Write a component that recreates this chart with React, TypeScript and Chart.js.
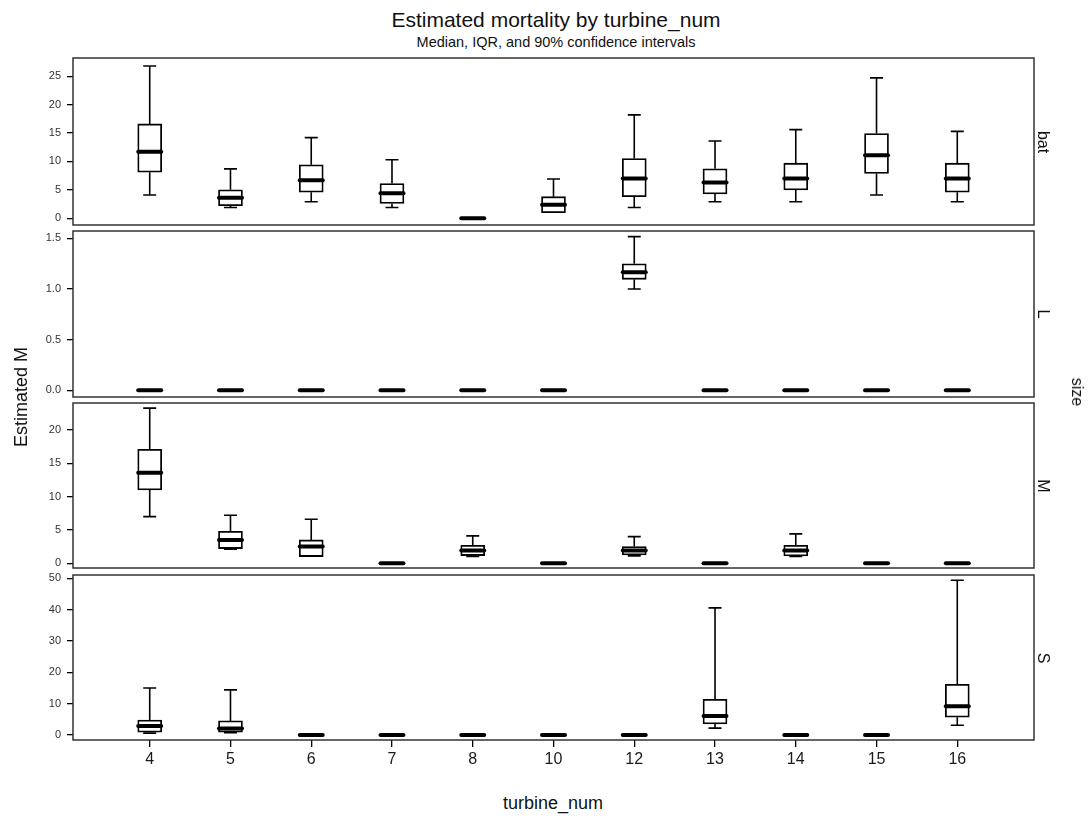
import React, { useEffect, useRef } from 'react';
import { Chart, registerables } from 'chart.js';

Chart.register(...registerables);

const FONT = "'Liberation Sans', Arial, sans-serif";

// turbine numbers (x categories)
const categories = ['4', '5', '6', '7', '8', '10', '12', '13', '14', '15', '16'];
// size facets (right strips)
const sizeLabels = ['bat', 'L', 'M', 'S'];

// each entry: [lower 5%, Q1, median, Q3, upper 95%]
const batStats = [
  [4.1, 8.1, 11.7, 16.6, 26.8],
  [1.9, 2.2, 3.6, 5.0, 8.7],
  [2.9, 4.6, 6.7, 9.4, 14.2],
  [1.9, 2.6, 4.4, 6.1, 10.3],
  [0, 0, 0, 0, 0],
  [1.0, 1.0, 2.4, 3.8, 6.9],
  [1.9, 3.8, 7.0, 10.5, 18.2],
  [2.9, 4.3, 6.3, 8.7, 13.6],
  [2.9, 5.0, 7.0, 9.7, 15.6],
  [4.1, 7.9, 11.1, 14.9, 24.7],
  [2.9, 4.6, 7.0, 9.7, 15.3],
];
const lStats = [
  [0, 0, 0, 0, 0],
  [0, 0, 0, 0, 0],
  [0, 0, 0, 0, 0],
  [0, 0, 0, 0, 0],
  [0, 0, 0, 0, 0],
  [0, 0, 0, 0, 0],
  [1.0, 1.095, 1.165, 1.248, 1.516],
  [0, 0, 0, 0, 0],
  [0, 0, 0, 0, 0],
  [0, 0, 0, 0, 0],
  [0, 0, 0, 0, 0],
];
const mStats = [
  [7.0, 11.0, 13.6, 17.1, 23.3],
  [2.1, 2.2, 3.5, 4.8, 7.2],
  [1.0, 1.0, 2.5, 3.5, 6.6],
  [0, 0, 0, 0, 0],
  [1.0, 1.15, 1.9, 2.7, 4.1],
  [0, 0, 0, 0, 0],
  [1.1, 1.25, 1.9, 2.5, 4.0],
  [0, 0, 0, 0, 0],
  [1.0, 1.1, 1.9, 2.7, 4.4],
  [0, 0, 0, 0, 0],
  [0, 0, 0, 0, 0],
];
const sStats = [
  [0.6, 0.9, 2.9, 4.8, 15.0],
  [0.7, 0.9, 2.1, 4.5, 14.4],
  [0, 0, 0, 0, 0],
  [0, 0, 0, 0, 0],
  [0, 0, 0, 0, 0],
  [0, 0, 0, 0, 0],
  [0, 0, 0, 0, 0],
  [2.2, 3.5, 6.1, 11.4, 40.6],
  [0, 0, 0, 0, 0],
  [0, 0, 0, 0, 0],
  [3.1, 5.7, 9.2, 16.2, 49.4],
];

// y tick values per panel
const batTicks = [0, 5, 10, 15, 20, 25];
const lTicks = [0, 0.5, 1.0, 1.5];
const mTicks = [0, 5, 10, 15, 20];
const sTicks = [0, 10, 20, 30, 40, 50];
const tickDecimals = [0, 1, 0, 0];

// y axis limits per panel
const batRange = [-1.18, 28.2];
const lRange = [-0.067, 1.572];
const mRange = [-0.72, 24.07];
const sRange = [-1.6, 51.1];

const panelStats = [batStats, lStats, mStats, sStats];
const panelTicks = [batTicks, lTicks, mTicks, sTicks];
const panelRanges = [batRange, lRange, mRange, sRange];

// layout (pixels)
const PANEL_TOP = [58, 231, 403, 575];
const PANEL_BOTTOM = [225, 397, 568, 740];
const AREA_LEFT = 73;
const AREA_RIGHT = 1034;
const W = 1091;
const PAD = 10;
const XAXIS_H = 40;

const boxPlugin = {
  id: 'boxWhiskers',
  afterDatasetsDraw(chart: any, _args: any, opts: any) {
    const stats: number[][] = opts.stats;
    const xs = chart.scales.x;
    const ys = chart.scales.y;
    const ctx = chart.ctx;
    ctx.save();
    ctx.strokeStyle = '#000';
    stats.forEach((s, i) => {
      const x = xs.getPixelForValue(i);
      const [lo, q1, med, q3, hi] = s.map((v) => ys.getPixelForValue(v));
      ctx.lineWidth = 1.6;
      ctx.lineCap = 'butt';
      ctx.beginPath();
      if (hi < q3 - 0.5) {
        ctx.moveTo(x, q3);
        ctx.lineTo(x, hi);
        ctx.moveTo(x - 6.5, hi);
        ctx.lineTo(x + 6.5, hi);
      }
      if (lo > q1 + 0.5) {
        ctx.moveTo(x, q1);
        ctx.lineTo(x, lo);
        ctx.moveTo(x - 6.5, lo);
        ctx.lineTo(x + 6.5, lo);
      }
      ctx.stroke();
      ctx.lineWidth = 4;
      ctx.lineCap = 'round';
      ctx.beginPath();
      ctx.moveTo(x - 11.5, med);
      ctx.lineTo(x + 11.5, med);
      ctx.stroke();
    });
    const a = chart.chartArea;
    ctx.lineWidth = 1.5;
    ctx.strokeStyle = '#333';
    ctx.strokeRect(a.left, a.top, a.right - a.left, a.bottom - a.top);
    ctx.restore();
  },
};

function Panel({ idx }: { idx: number }) {
  const ref = useRef<HTMLCanvasElement>(null);
  const showX = idx === 3;
  const areaH = PANEL_BOTTOM[idx] - PANEL_TOP[idx];
  const canvasTop = PANEL_TOP[idx] - PAD;
  const canvasH = showX ? PAD + areaH + XAXIS_H : PAD + areaH + PAD;

  useEffect(() => {
    if (!ref.current) return;
    const stats = panelStats[idx];
    const ticks = panelTicks[idx];
    const [ymin, ymax] = panelRanges[idx];
    const dec = tickDecimals[idx];
    const chart = new Chart(ref.current, {
      type: 'bar',
      data: {
        datasets: [
          {
            data: stats.map((s, i) => ({ x: i, y: [s[1], s[3]] })) as any,
            backgroundColor: '#ffffff',
            borderColor: '#000000',
            borderWidth: 1.8,
            borderSkipped: false,
            barThickness: 24,
          } as any,
        ],
      },
      options: {
        responsive: false,
        animation: false,
        devicePixelRatio: 1,
        events: [],
        layout: {
          padding: { top: PAD, bottom: showX ? 0 : PAD, left: 0, right: W - AREA_RIGHT },
        },
        plugins: {
          legend: { display: false },
          tooltip: { enabled: false },
          title: { display: false },
          boxWhiskers: { stats },
        } as any,
        scales: {
          x: {
            type: 'linear',
            min: -0.95,
            max: 10.95,
            offset: false,
            display: showX,
            afterBuildTicks: (s: any) => {
              s.ticks = categories.map((_, i) => ({ value: i }));
            },
            afterFit: (s: any) => {
              s.height = showX ? XAXIS_H : 0;
              s.paddingLeft = 0;
              s.paddingRight = 0;
              s.paddingTop = 0;
              s.paddingBottom = 0;
            },
            ticks: {
              callback: (v: any) => categories[Math.round(Number(v))],
              font: { family: FONT, size: 16 },
              color: '#1a1a1a',
              padding: 3,
              maxRotation: 0,
              autoSkip: false,
            },
            grid: {
              display: true,
              offset: false,
              drawOnChartArea: false,
              drawTicks: true,
              tickLength: 7,
              color: '#000',
              lineWidth: 1.3,
            },
            border: { display: false },
          },
          y: {
            type: 'linear',
            min: ymin,
            max: ymax,
            afterBuildTicks: (s: any) => {
              s.ticks = ticks.map((v) => ({ value: v }));
            },
            afterFit: (s: any) => {
              s.width = AREA_LEFT;
              s.paddingLeft = 0;
              s.paddingRight = 0;
              s.paddingTop = 0;
              s.paddingBottom = 0;
            },
            ticks: {
              callback: (v: any) => Number(v).toFixed(dec),
              font: { family: FONT, size: 11 },
              color: '#333',
              padding: 6,
              autoSkip: false,
            },
            grid: {
              display: true,
              drawOnChartArea: false,
              drawTicks: true,
              tickLength: 6,
              color: '#000',
              lineWidth: 1.3,
            },
            border: { display: false },
          },
        },
      } as any,
      plugins: [boxPlugin],
    });
    return () => chart.destroy();
  }, [idx]);

  return (
    <canvas
      ref={ref}
      width={W}
      height={canvasH}
      style={{ position: 'absolute', left: 0, top: canvasTop, width: W, height: canvasH }}
    />
  );
}

function Label({
  text,
  cx,
  cy,
  size,
  rotate = 0,
}: {
  text: string;
  cx: number;
  cy: number;
  size: number;
  rotate?: number;
}) {
  return (
    <div
      style={{
        position: 'absolute',
        left: cx,
        top: cy,
        transform: `translate(-50%, -50%) rotate(${rotate}deg)`,
        fontFamily: FONT,
        fontSize: size,
        lineHeight: `${size}px`,
        whiteSpace: 'nowrap',
        color: '#111',
      }}
    >
      {text}
    </div>
  );
}

export default function App() {
  return (
    <div
      style={{
        position: 'absolute',
        left: 0,
        top: 0,
        width: W,
        height: 821,
        background: '#fff',
        overflow: 'hidden',
      }}
    >
      <Label text="Estimated mortality by turbine_num" cx={556} cy={18.5} size={21} />
      <Label text="Median, IQR, and 90% confidence intervals" cx={556} cy={42} size={14.5} />
      {[0, 1, 2, 3].map((i) => (
        <Panel key={i} idx={i} />
      ))}
      {sizeLabels.map((s, i) => (
        <Label
          key={s}
          text={s}
          cx={1043}
          cy={(PANEL_TOP[i] + PANEL_BOTTOM[i]) / 2}
          size={16}
          rotate={90}
        />
      ))}
      <Label text="size" cx={1077} cy={392} size={16} rotate={90} />
      <Label text="Estimated M" cx={21} cy={397} size={18} rotate={-90} />
      <Label text="turbine_num" cx={553} cy={803} size={18} />
    </div>
  );
}
